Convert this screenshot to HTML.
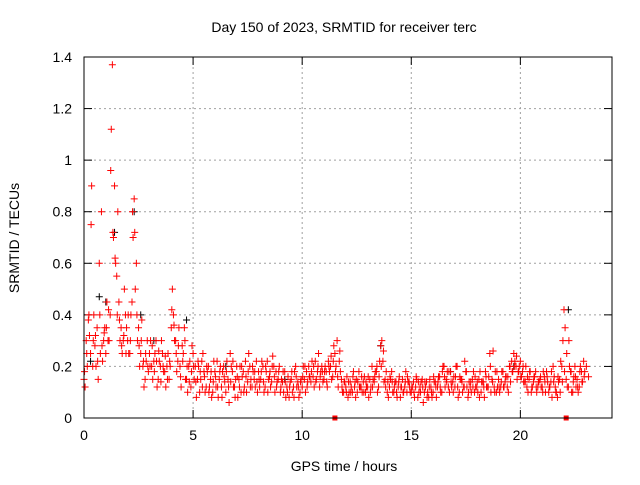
<!DOCTYPE html>
<html><head><meta charset="utf-8"><style>
body{margin:0;background:#fff}
svg text{font-family:"Liberation Sans",sans-serif;font-size:14px;fill:#000}
</style></head><body>
<svg id="c" width="640" height="480"></svg>
<script>
const xTicks=[0,5,10,15,20];
const yTicks=[0,0.2,0.4,0.6,0.8,1,1.2,1.4];
const yTickLabels=["0","0.2","0.4","0.6","0.8","1","1.2","1.4"];
const redA=[0.15,0.3,0.38,0.25,0.2,0.28,0.35,0.6,0.8,0.3,0.25,0.3,0.4,1.37,0.9,0.55,0.45,0.35,0.3,0.4,0.3,0.25,0.45,0.85,0.6,0.35,0.25,0.2,0.15,0.3,0.25,0.2,0.22,0.3,0.15,0.2,0.25,0.18,0.2,0.15,0.35,0.4,0.3,0.22,0.2,0.28,0.35,0.15,0.2,0.12,0.25,0.2,0.15,0.1,0.22,0.18,0.12,0.2,0.15,0.1,0.18,0.22,0.15,0.12,0.2,0.1,0.15,0.25,0.18,0.12,0.2,0.15,0.1,0.18,0.22,0.14,0.2,0.12,0.15,0.22,0.18,0.15,0.2,0.12,0.22,0.16,0.14,0.2,0.18,0.15,0.1,0.14,0.18,0.12,0.08,0.15,0.12,0.2,0.14,0.1,0.12,0.15,0.18,0.2,0.14,0.16,0.22,0.18,0.12,0.2,0.15,0.18,0.22,0.2,0.16,0.25,0.3,0.22,0.15,0.1,0.12,0.08,0.14,0.1,0.12,0.15,0.18,0.12,0.14,0.1,0.12,0.15,0.2,0.14,0.18,0.12,0.28,0.22,0.15,0.1,0.12,0.18,0.1,0.14,0.12,0.08,0.15,0.12,0.1,0.14,0.1,0.14,0.12,0.08,0.12,0.15,0.1,0.14,0.08,0.12,0.1,0.14,0.12,0.16,0.1,0.2,0.15,0.12,0.18,0.14,0.12,0.2,0.1,0.15,0.12,0.18,0.08,0.12,0.15,0.1,0.12,0.15,0.1,0.14,0.18,0.12,0.25,0.15,0.12,0.1,0.15,0.12,0.18,0.14,0.12,0.2,0.22,0.25,0.2,0.18,0.22,0.18,0.14,0.12,0.15,0.1,0.14,0.18,0.12,0.15,0.12,0.16,0.18,0.1,0.14,0.2,0.12,0.08,0.15,0.2,0.42,0.15,0.12,0.18,0.1,0.2,0.15,0.12,0.18,0.22];
const redB=[0.12,0.2,0.32,0.9,0.4,0.2,0.15,0.25,0.22,0.35,0.45,0.3,1.12,0.7,0.6,0.8,0.3,0.25,0.5,0.35,0.25,0.4,0.7,0.5,0.3,0.2,0.38,0.12,0.22,0.18,0.3,0.15,0.25,0.12,0.22,0.3,0.18,0.12,0.25,0.2,0.5,0.3,0.18,0.35,0.12,0.25,0.15,0.1,0.22,0.28,0.15,0.08,0.2,0.15,0.25,0.1,0.18,0.12,0.08,0.22,0.12,0.08,0.2,0.18,0.14,0.22,0.06,0.2,0.12,0.15,0.08,0.2,0.16,0.12,0.1,0.25,0.15,0.18,0.12,0.1,0.12,0.22,0.1,0.18,0.15,0.12,0.24,0.1,0.14,0.2,0.15,0.1,0.08,0.16,0.14,0.1,0.18,0.12,0.08,0.15,0.2,0.1,0.14,0.16,0.22,0.12,0.15,0.25,0.18,0.14,0.2,0.12,0.18,0.15,0.28,0.2,0.12,0.18,0.1,0.14,0.16,0.1,0.12,0.18,0.08,0.14,0.12,0.1,0.16,0.12,0.08,0.12,0.15,0.18,0.1,0.22,0.3,0.14,0.18,0.08,0.15,0.1,0.14,0.08,0.16,0.12,0.1,0.18,0.14,0.1,0.12,0.08,0.15,0.1,0.14,0.06,0.12,0.1,0.15,0.08,0.14,0.08,0.16,0.1,0.2,0.12,0.18,0.1,0.12,0.16,0.2,0.08,0.15,0.1,0.22,0.12,0.14,0.1,0.18,0.12,0.1,0.18,0.14,0.08,0.12,0.16,0.1,0.26,0.18,0.12,0.1,0.18,0.12,0.16,0.1,0.14,0.18,0.22,0.15,0.2,0.16,0.14,0.2,0.1,0.18,0.12,0.16,0.1,0.14,0.12,0.18,0.1,0.14,0.12,0.08,0.16,0.1,0.14,0.22,0.3,0.35,0.12,0.2,0.1,0.16,0.12,0.1,0.2,0.14,0.18];
const redC=[0.18,0.25,0.4,0.75,0.3,0.32,0.22,0.4,0.28,0.33,0.35,0.42,0.96,0.72,0.62,0.4,0.38,0.28,0.32,0.25,0.4,0.3,0.8,0.72,0.4,0.28,0.3,0.22,0.25,0.2,0.2,0.28,0.18,0.22,0.26,0.14,0.2,0.24,0.15,0.22,0.42,0.36,0.25,0.28,0.16,0.22,0.3,0.2,0.14,0.18,0.2,0.14,0.22,0.18,0.12,0.16,0.2,0.1,0.18,0.14,0.16,0.12,0.18,0.08,0.16,0.18,0.12,0.14,0.22,0.08,0.16,0.12,0.2,0.1,0.16,0.18,0.12,0.2,0.18,0.14,0.15,0.18,0.14,0.2,0.1,0.18,0.2,0.16,0.12,0.18,0.12,0.18,0.14,0.1,0.12,0.18,0.08,0.16,0.12,0.14,0.16,0.2,0.12,0.16,0.18,0.2,0.14,0.2,0.16,0.18,0.18,0.14,0.2,0.24,0.22,0.18,0.16,0.26,0.12,0.14,0.1,0.14,0.1,0.16,0.14,0.1,0.12,0.16,0.1,0.14,0.16,0.1,0.12,0.16,0.2,0.16,0.2,0.26,0.12,0.14,0.16,0.14,0.12,0.1,0.14,0.12,0.1,0.14,0.16,0.12,0.12,0.1,0.16,0.14,0.1,0.12,0.14,0.08,0.12,0.1,0.16,0.12,0.14,0.12,0.18,0.16,0.14,0.18,0.14,0.1,0.16,0.12,0.16,0.14,0.12,0.18,0.1,0.14,0.12,0.16,0.14,0.08,0.14,0.12,0.16,0.12,0.2,0.14,0.1,0.18,0.12,0.14,0.12,0.16,0.16,0.2,0.18,0.2,0.24,0.18,0.16,0.2,0.14,0.16,0.18,0.12,0.16,0.12,0.14,0.16,0.1,0.14,0.16,0.12,0.18,0.14,0.1,0.16,0.1,0.14,0.18,0.25,0.3,0.18,0.14,0.16,0.12,0.18,0.14,0.16,0.2,0.16];
const blackT=[0.3,0.7,1.0,1.4,2.3,2.6,3.2,4.7,6.5,9.2,13.6,16.8,19.7,22.2];
const blackV=[0.22,0.47,0.45,0.72,0.8,0.4,0.3,0.38,0.2,0.15,0.28,0.18,0.2,0.42];
const zeroT=[11.5,22.1];
const step=0.1;
const NS="http://www.w3.org/2000/svg",svg=document.getElementById('c');
const L=84,R=612,T=57,B=418,XMAX=24.2,YMAX=1.4;
const X=v=>L+v/XMAX*(R-L), Y=v=>B-v/YMAX*(B-T);
function mk(tag,at,p){const e=document.createElementNS(NS,tag);for(const k in at)e.setAttribute(k,at[k]);(p||svg).appendChild(e);return e;}
const grid=mk('g',{});


xTicks.forEach(t=>{if(t>0)mk('line',{x1:X(t),x2:X(t),y1:T,y2:B,stroke:'#a0a0a0','stroke-dasharray':'2,3'},grid);
 mk('line',{x1:X(t),x2:X(t),y1:B,y2:B-8,stroke:'#000'},grid);mk('line',{x1:X(t),x2:X(t),y1:T,y2:T+8,stroke:'#000'},grid);
 const tx=mk('text',{x:X(t),y:B+22,'text-anchor':'middle'});tx.textContent=t;
 
 });
yTicks.forEach((t,i)=>{if(t>0&&t<YMAX)mk('line',{x1:L,x2:R,y1:Y(t),y2:Y(t),stroke:'#a0a0a0','stroke-dasharray':'2,3'},grid);
 mk('line',{x1:L,x2:L+8,y1:Y(t),y2:Y(t),stroke:'#000'},grid);mk('line',{x1:R,x2:R-8,y1:Y(t),y2:Y(t),stroke:'#000'},grid);
 const tx=mk('text',{x:L-12,y:Y(t)+5,'text-anchor':'end'});tx.textContent=yTickLabels[i];
 
 });
const pts=mk('g',{'stroke-width':1});


function plus(x,y,c){mk('path',{d:`M${x-3.5} ${y}h7M${x} ${y-3.5}v7`,stroke:c},pts);}
blackT.forEach((t,i)=>plus(X(t),Y(blackV[i]),'#000'));
redA.forEach((v,i)=>plus(X(i*step),Y(v),'#f00'));
redB.forEach((v,i)=>plus(X(i*step+step/2),Y(v),'#f00'));
redC.forEach((v,i)=>plus(X(i*step+step/4),Y(v),'#f00'));
zeroT.forEach(t=>{const r=mk('rect',{x:X(t)-2.5,y:B-2.5,width:5,height:5,fill:'#f00'},pts);
 
 });
const fr=mk('rect',{x:L,y:T,width:R-L,height:B-T,fill:'none',stroke:'#000'});


const ti=mk('text',{x:344,y:32,'text-anchor':'middle'});ti.textContent='Day 150 of 2023, SRMTID for receiver terc';


const xl=mk('text',{x:344,y:471,'text-anchor':'middle'});xl.textContent='GPS time / hours';


const yl=mk('text',{x:0,y:0,'text-anchor':'middle',transform:'translate(19,238) rotate(-90)'});yl.textContent='SRMTID / TECUs';


</script>
</body></html>
